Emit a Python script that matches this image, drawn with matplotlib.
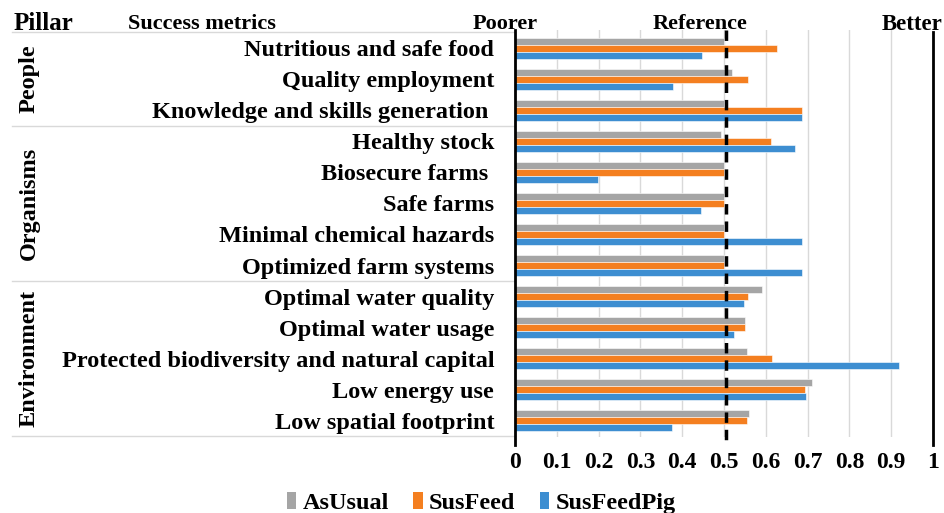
"""Success metrics per pillar: AsUsual vs SusFeed vs SusFeedPig."""

import matplotlib

matplotlib.use("Agg")

import matplotlib.pyplot as plt
import matplotlib.transforms as mtransforms
from matplotlib.patches import Patch
import numpy as np


CATEGORIES = [
    "Nutritious and safe food",
    "Quality employment",
    "Knowledge and skills generation ",
    "Healthy stock",
    "Biosecure farms ",
    "Safe farms",
    "Minimal chemical hazards",
    "Optimized farm systems",
    "Optimal water quality",
    "Optimal water usage",
    "Protected biodiversity and natural capital",
    "Low energy use",
    "Low spatial footprint",
]
PILLARS = ["People", "Organisms", "Environment"]
PILLAR_SIZES = [3, 5, 5]

AS_USUAL = [0.50, 0.518, 0.50, 0.494, 0.50, 0.50, 0.50, 0.50, 0.591, 0.551, 0.556, 0.71, 0.561]
SUS_FEED = [0.626, 0.558, 0.687, 0.612, 0.50, 0.50, 0.50, 0.50, 0.558, 0.551, 0.616, 0.694, 0.556]
SUS_FEED_PIG = [0.448, 0.378, 0.687, 0.67, 0.199, 0.446, 0.687, 0.687, 0.549, 0.525, 0.919, 0.696, 0.376]

SERIES = [("AsUsual", AS_USUAL), ("SusFeed", SUS_FEED), ("SusFeedPig", SUS_FEED_PIG)]
COLORS = {"AsUsual": "#A5A5A5", "SusFeed": "#F47F20", "SusFeedPig": "#3D8ED1"}

XTICKS = [0, 0.1, 0.2, 0.3, 0.4, 0.5, 0.6, 0.7, 0.8, 0.9, 1]
XTICK_LABELS = ["0", "0.1", "0.2", "0.3", "0.4", "0.5", "0.6", "0.7", "0.8", "0.9", "1"]
REFERENCE = 0.505

FONT = "Liberation Serif"


def main() -> None:
    plt.rcParams["font.family"] = FONT
    plt.rcParams["font.weight"] = "bold"

    fig = plt.figure(figsize=(9.44, 5.13), dpi=100)
    ax = fig.add_axes([515 / 944, 1 - 437 / 513, (933 - 515) / 944, (437 - 30) / 513])

    y = np.arange(len(CATEGORIES))
    bar_h = 0.225
    for k, (name, values) in enumerate(SERIES):
        ax.barh(y + (k - 1) * bar_h, values, height=bar_h, color=COLORS[name],
                edgecolor="white", linewidth=0.4, zorder=2)

    ax.set_xlim(0, 1)
    ax.set_ylim(12.52, -0.58)
    ax.set_xticks(XTICKS)
    ax.set_xticklabels(XTICK_LABELS, fontsize=17, fontweight="bold")
    ax.set_yticks(y)
    ax.set_yticklabels(CATEGORIES, fontsize=17.5, fontweight="bold")
    ax.tick_params(axis="y", length=0, pad=15)
    ax.tick_params(axis="x", length=0, pad=11)
    for side in ["top", "right", "bottom", "left"]:
        ax.spines[side].set_visible(False)
    ax.grid(axis="x", color="#D9D9D9", linewidth=1.0, zorder=0)

    bottom = 12.78
    ax.plot([0, 0], [-0.58, bottom], color="black", linewidth=2.0, clip_on=False, zorder=4)
    ax.plot([1, 1], [-0.5, bottom], color="black", linewidth=2.0, clip_on=False, zorder=4)
    ax.plot([REFERENCE, REFERENCE], [-0.58, bottom], color="black", linewidth=2.5,
            linestyle=(0, (3, 2)), clip_on=False, zorder=4)

    # pillar separators and labels in the label area
    trans = mtransforms.blended_transform_factory(fig.transFigure, ax.transData)
    start = 0
    edges = [-0.5]
    for pillar, size in zip(PILLARS, PILLAR_SIZES):
        mid = start + (size - 1) / 2
        ax.text(29 / 944, mid, pillar, transform=trans, rotation=90, ha="center",
                va="center", fontsize=17.5, fontweight="bold")
        start += size
        edges.append(start - 0.5)
    for e in edges:
        ax.plot([12 / 944, 515 / 944], [e, e], transform=trans, color="#D9D9D9",
                linewidth=1.0, clip_on=False)

    # header row
    for label, xpix, size in [("Pillar", 43, 18), ("Success metrics", 202, 16),
                              ("Poorer", 505, 16), ("Reference", 700, 16),
                              ("Better", 912, 16.5)]:
        fig.text(xpix / 944, 1 - 24 / 513, label, ha="center", va="center",
                 fontsize=size, fontweight="bold")

    handles = [Patch(facecolor=COLORS[name], label=name) for name, _ in SERIES]
    fig.legend(handles=handles, loc="center", bbox_to_anchor=(481 / 944, 1 - 503 / 513),
               ncol=3, frameon=False, fontsize=17.5, handlelength=0.4, handleheight=0.7,
               handletextpad=0.25, columnspacing=1.0)

    fig.savefig("out.png", dpi=100)
    plt.close(fig)


if __name__ == "__main__":
    main()
